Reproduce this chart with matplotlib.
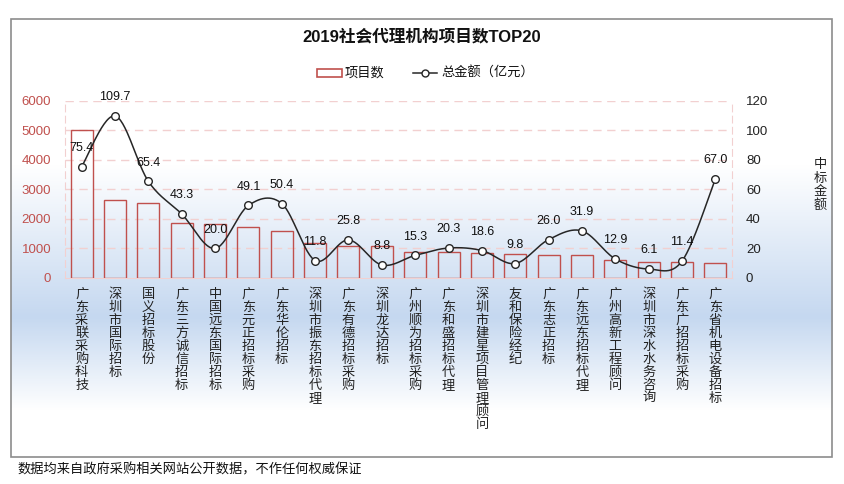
import numpy as np
import matplotlib
matplotlib.use("Agg")
import matplotlib.pyplot as plt
from matplotlib.patches import Rectangle
from matplotlib.lines import Line2D
from matplotlib.colors import to_rgb

plt.rcParams['font.family'] = ['Liberation Sans', 'Noto Sans CJK SC', 'DejaVu Sans']

# 数据
机构 = ["广东采联采购科技", "深圳市国际招标", "国义招标股份", "广东三方诚信招标",
      "中国远东国际招标", "广东元正招标采购", "广东华伦招标", "深圳市振东招标代理",
      "广东有德招标采购", "深圳龙达招标", "广州顺为招标采购", "广东和盛招标代理",
      "深圳市建星项目管理顾问", "友和保险经纪", "广东志正招标", "广东远东招标代理",
      "广州高新工程顾问", "深圳市深水水务咨询", "广东广招招标采购", "广东省机电设备招标"]
项目数 = [5010, 2630, 2550, 1865, 1820, 1720, 1605, 1170, 1090, 1080,
       885, 865, 830, 810, 765, 765, 595, 530, 530, 495]
总金额 = [75.4, 109.7, 65.4, 43.3, 20.0, 49.1, 50.4, 11.8, 25.8, 8.8,
       15.3, 20.3, 18.6, 9.8, 26.0, 31.9, 12.9, 6.1, 11.4, 67.0]
左轴刻度 = [0, 1000, 2000, 3000, 4000, 5000, 6000]
右轴刻度 = [0, 20, 40, 60, 80, 100, 120]

W, H = 844, 484
def fx(x):
    return x / W
def fy(y):
    return 1 - y / H

红 = '#c0504d'
粉 = '#f2d0d0'

fig = plt.figure(figsize=(W / 100, H / 100), dpi=100)

# 背景渐变（外框内）
box_l, box_r, box_t, box_b = 10.7, 832.3, 19, 456.7
bg = fig.add_axes([fx(box_l), fy(box_b), fx(box_r - box_l), (box_b - box_t) / H], zorder=-5)
ys = np.linspace(box_t, box_b, 400)
blue = np.array(to_rgb('#c5d8f0'))
white = np.ones(3)
w = np.interp(ys, [box_t, 165, 317, 410, box_b], [0, 0, 1, 0, 0])
grad = white[None, :] * (1 - w[:, None]) + blue[None, :] * w[:, None]
bg.imshow(grad[:, None, :], aspect='auto', extent=[0, 1, 1, 0])
bg.axis('off')
fig.patches.append(Rectangle((fx(box_l), fy(box_b)), fx(box_r - box_l), (box_b - box_t) / H,
                             transform=fig.transFigure, fill=False, edgecolor='#8c8c8c', lw=1.2))

# 主坐标
ax = fig.add_axes([fx(65), fy(278), fx(732 - 65), (278 - 100.7) / H])
ax.set_facecolor('none')
x = np.arange(len(机构))
ax.bar(x, 项目数, width=0.66, facecolor='none', edgecolor=红, lw=1.0, zorder=3)
ax.set_xlim(-0.5, len(机构) - 0.5)
ax.set_ylim(0, 6000)
ax.set_yticks(左轴刻度)
ax.set_yticklabels([str(v) for v in 左轴刻度], color=红, fontsize=9.5)
ax.tick_params(axis='y', length=0, pad=10)
ax.set_xticks([])
for v in 左轴刻度[1:]:
    ax.axhline(v, color=粉, lw=1, ls=(0, (6, 4)), zorder=1)
for s in ['left', 'right']:
    ax.spines[s].set_color(粉)
    ax.spines[s].set_linestyle((0, (6, 4)))
ax.spines['top'].set_visible(False)
ax.spines['bottom'].set_color(粉)

# 纵向分类标签
pitch = 13 * 0.72
for i, name in enumerate(机构):
    for k, ch in enumerate(name):
        ax.annotate(ch, xy=(i, 0), xycoords=('data', 'axes fraction'),
                    xytext=(0, -7.0 - k * pitch), textcoords='offset points',
                    ha='center', va='top', fontsize=9.5, color='#222222',
                    family=['Noto Sans CJK SC', 'DejaVu Sans'])

# 右轴：总金额
ax2 = ax.twinx()
ax2.set_ylim(0, 120)
ax2.set_yticks(右轴刻度)
ax2.set_yticklabels([str(v) for v in 右轴刻度], fontsize=9.5, color='#222222')
ax2.tick_params(axis='y', length=0, pad=10)
for s in ax2.spines.values():
    s.set_visible(False)


def catmull(xs, ys, n=30):
    px = np.r_[xs[0], xs, xs[-1]]
    py = np.r_[ys[0], ys, ys[-1]]
    ox, oy = [], []
    for i in range(1, len(px) - 2):
        t = np.linspace(0, 1, n, endpoint=False)
        p0, p1, p2, p3 = [np.array([px[j], py[j]]) for j in (i - 1, i, i + 1, i + 2)]
        c1 = p1 + (p2 - p0) / 6
        c2 = p2 - (p3 - p1) / 6
        b = ((1 - t) ** 3)[:, None] * p1 + (3 * (1 - t) ** 2 * t)[:, None] * c1 \
            + (3 * (1 - t) * t ** 2)[:, None] * c2 + (t ** 3)[:, None] * p2
        ox.extend(b[:, 0]); oy.extend(b[:, 1])
    ox.append(xs[-1]); oy.append(ys[-1])
    return ox, oy

sx, sy = catmull(x.astype(float), np.array(总金额))
ax2.plot(sx, sy, color='#262626', lw=1.1, zorder=4)
ax2.plot(x, 总金额, ls='none', marker='o', ms=5.5, mfc='white', mec='#262626', mew=1.0, zorder=5)
for i, v in enumerate(总金额):
    ax2.annotate(f"{v:.1f}", xy=(i, v), xytext=(0, 13.5), textcoords='offset points',
                 ha='center', va='center', fontsize=9, color='#111111', zorder=6)

# 右轴标题（竖排）
for k, ch in enumerate("中标金额"):
    fig.text(fx(820), fy(165 + k * 13.3), ch, ha='center', va='center', fontsize=9.5,
             family=['Noto Sans CJK SC', 'DejaVu Sans'], color='#222222')

# 标题
fig.text(0.5, fy(37), "2019社会代理机构项目数TOP20", ha='center', va='center',
         fontsize=12, fontweight='bold', color='#111111')

# 图例
fig.patches.append(Rectangle((fx(317), fy(76.5)), fx(25), 7.5 / H, transform=fig.transFigure,
                             facecolor='white', edgecolor=红, lw=1.2))
fig.text(fx(345), fy(73), "项目数", ha='left', va='center', fontsize=9.5, color='#111111')
fig.lines.append(Line2D([fx(413), fx(437)], [fy(73), fy(73)], transform=fig.transFigure,
                        color='#262626', lw=1.1))
fig.lines.append(Line2D([fx(425)], [fy(73)], transform=fig.transFigure, marker='o', ms=5,
                        mfc='white', mec='#262626', mew=1.0))
fig.text(fx(441), fy(73), "总金额（亿元）", ha='left', va='center', fontsize=9.5, color='#111111')

# 脚注
fig.text(fx(17), fy(470), "数据均来自政府采购相关网站公开数据，不作任何权威保证", ha='left', va='center',
         fontsize=9.5, color='#111111')

fig.savefig("out.png", dpi=100)
